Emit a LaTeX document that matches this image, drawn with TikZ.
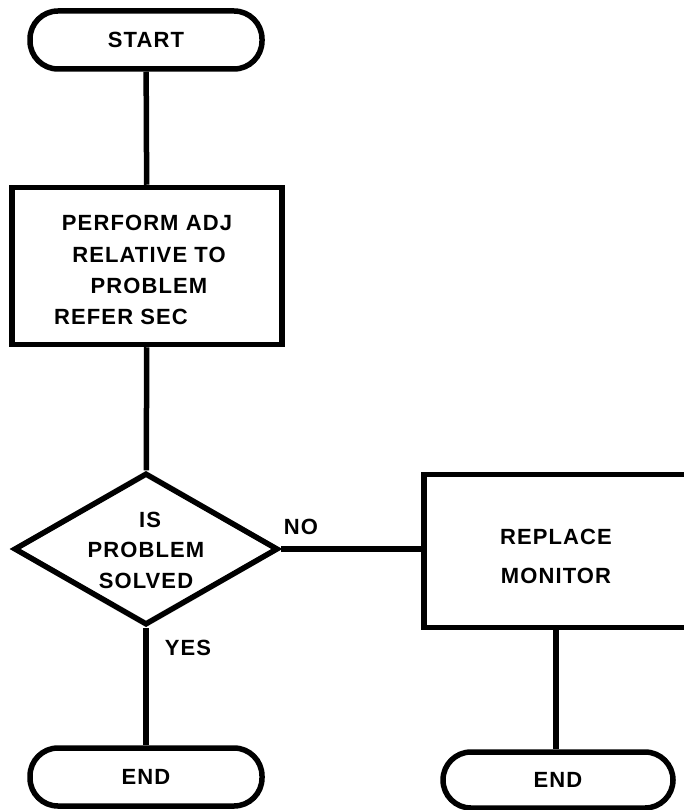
\documentclass[tikz,border=0pt]{standalone}
\usepackage{fontspec}
\setmainfont{Liberation Sans}[LetterSpace=5]
\usetikzlibrary{shapes.geometric}
\begin{document}
\begin{tikzpicture}[x=1pt,y=-1pt,
  every node/.style={font=\fontsize{22}{24}\selectfont\bfseries},
  term/.style={draw,line width=5.5pt,rectangle,rounded corners=28pt,minimum width=232pt,minimum height=58pt,inner sep=0pt},
  procbox/.style={draw,line width=5.5pt,rectangle,minimum width=270pt,minimum height=157pt,inner sep=0pt},
  decision/.style={draw,line width=5.5pt,diamond,minimum width=264pt,minimum height=152pt,inner sep=0pt,aspect=1.74},
  lbl/.style={inner sep=0pt},
  conn/.style={line width=5.5pt}]
\useasboundingbox (0,0) rectangle (683,810);
\node[term] (start) at (146,40) {START};
\node[procbox] (perf) at (147,266) {};
\node[lbl] (p1) at (147,223) {PERFORM ADJ};
\node[lbl] (p2) at (149,255) {RELATIVE TO};
\node[lbl] (p3) at (149,286) {PROBLEM};
\node[lbl,anchor=west] (p4) at (54,317) {REFER SEC};
\node[decision] (dec) at (146,549) {};
\node[lbl] (d1) at (150,520) {IS};
\node[lbl] (d2) at (146,550) {PROBLEM};
\node[lbl] (d3) at (146,581) {SOLVED};
\node[procbox,minimum width=264pt,minimum height=153pt] (repl) at (556,551) {};
\node[lbl] (r1) at (556,537) {REPLACE};
\node[lbl] (r2) at (556,576) {MONITOR};
\node[term] (end1) at (146,777) {END};
\node[term,minimum width=230pt,minimum height=56pt] (end2) at (558,780) {END};
\node[lbl] (no) at (301,527) {NO};
\node[lbl] (yes) at (188,648) {YES};
\draw[conn] (start) -- (perf);
\draw[conn] (perf) -- (dec);
\draw[conn] (dec.east) -- (dec.east -| repl.west);
\draw[conn] (dec.south) -- (end1.north);
\draw[conn] (repl.south) -- (repl.south |- end2.north);
\end{tikzpicture}
\end{document}
